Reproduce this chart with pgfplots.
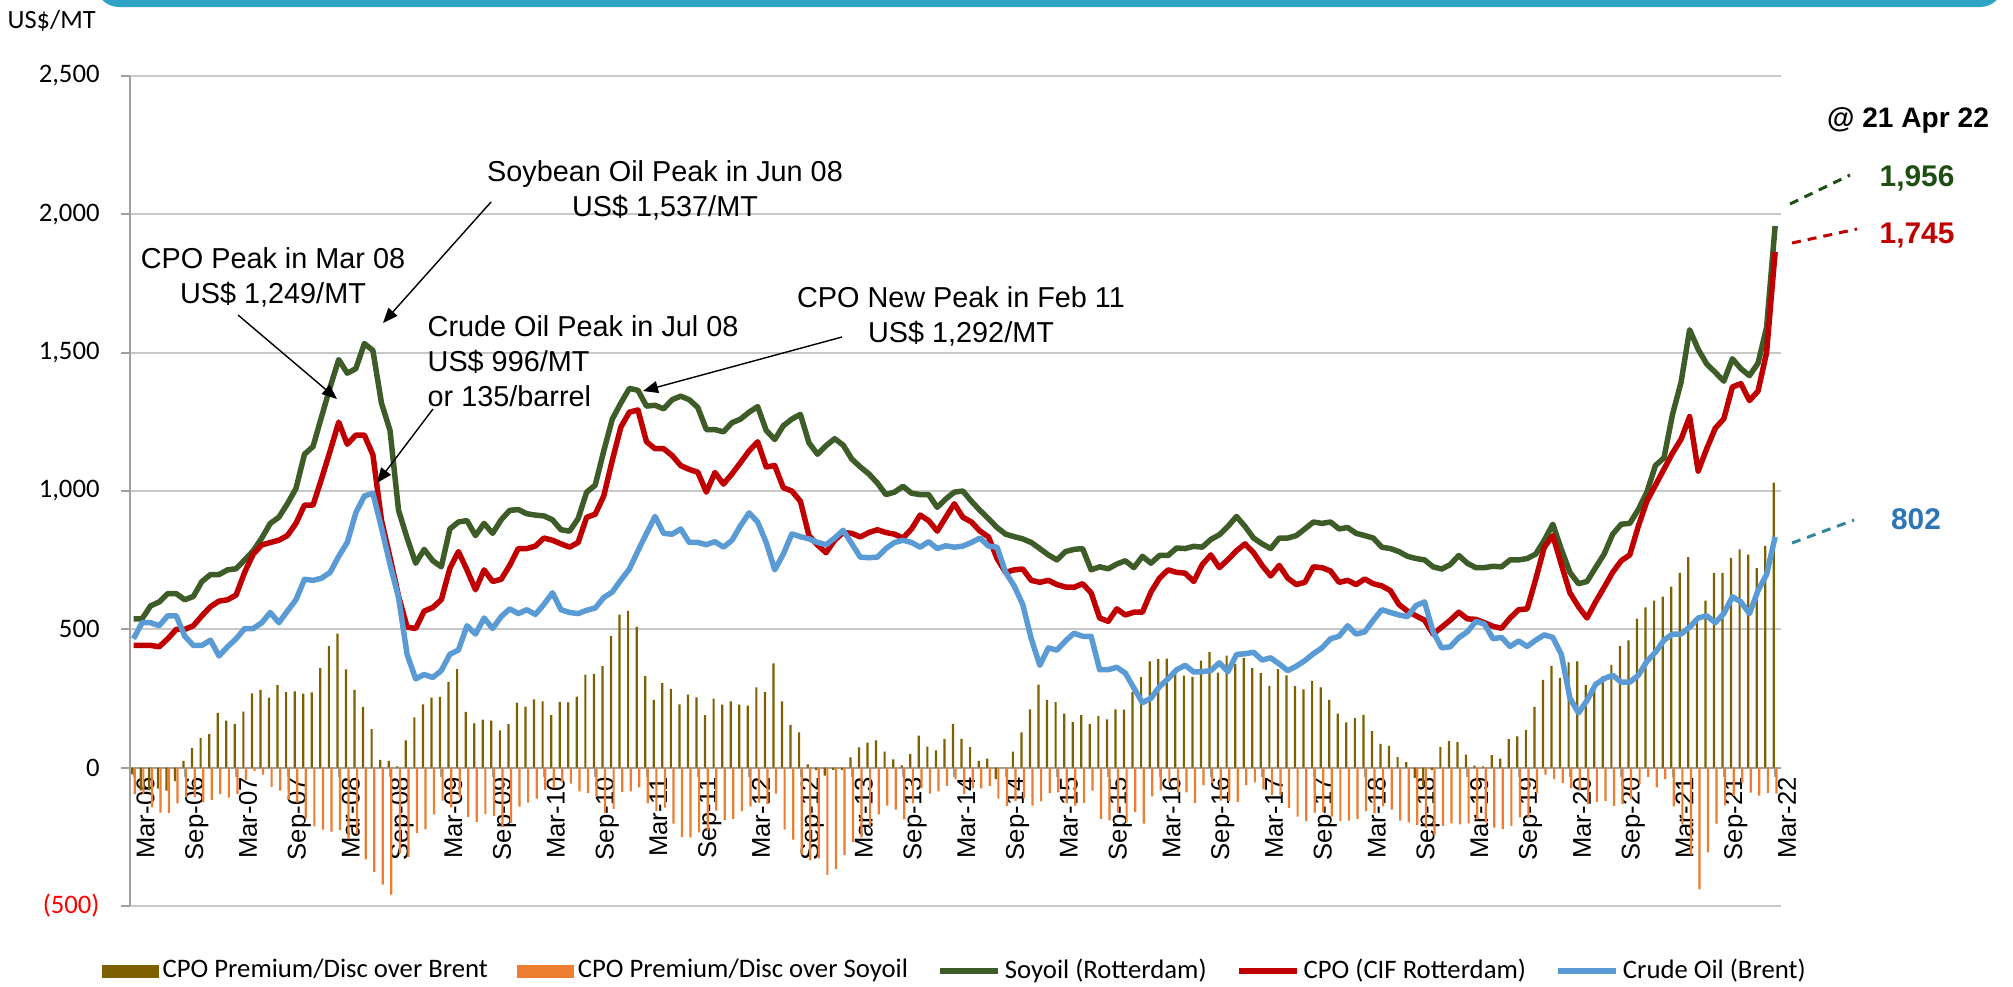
\documentclass[border=0pt]{standalone}
\usepackage{fontspec}
\setmainfont{Carlito}
\newfontfamily\arial{Liberation Sans}
\usepackage{pgfplots}
\pgfplotsset{compat=1.18}
\usepackage{pgfplotstable}
\usetikzlibrary{arrows.meta}
\definecolor{soy}{RGB}{62,92,40}
\definecolor{cpo}{RGB}{192,0,0}
\definecolor{crude}{RGB}{91,155,213}
\definecolor{brentbar}{RGB}{127,96,0}
\definecolor{soybar}{RGB}{237,125,49}
\definecolor{gridc}{RGB}{200,200,200}
\definecolor{axisc}{RGB}{160,160,160}
\definecolor{lbgreen}{RGB}{31,78,19}
\definecolor{lbblue}{RGB}{46,117,182}
\definecolor{lbteal}{RGB}{49,133,156}
\definecolor{framec}{RGB}{46,163,196}

\pgfplotstableread{
k soy cpo crude brent sbar
0 538 442 466 -24 -96
1 538 442 524 -82 -96
2 585 442 524 -82 -143
3 599 437 513 -76 -162
4 629 466 549 -83 -163
5 629 500 549 -49 -129
6 607 500 475 25 -107
7 619 513 442 71 -106
8 673 549 442 107 -124
9 698 582 461 121 -116
10 698 602 404 198 -96
11 715 607 437 170 -108
12 719 624 466 158 -95
13 751 706 503 203 -45
14 784 772 503 269 -12
15 830 805 524 281 -25
16 883 814 561 253 -69
17 905 822 524 298 -83
18 954 839 566 273 -115
19 1009 883 607 276 -126
20 1133 949 681 268 -184
21 1161 949 677 272 -212
22 1269 1045 685 360 -224
23 1376 1145 706 439 -231
24 1475 1249 764 485 -226
25 1426 1169 814 355 -257
26 1442 1202 921 281 -240
27 1533 1202 982 220 -331
28 1508 1131 992 139 -377
29 1318 895 867 28 -423
30 1219 760 735 25 -459
31 930 620 615 5 -310
32 830 508 409 99 -322
33 739 503 321 182 -236
34 789 566 337 229 -223
35 748 579 326 253 -169
36 726 607 351 256 -119
37 863 720 410 310 -143
38 888 781 425 356 -107
39 893 715 513 202 -178
40 839 643 483 160 -196
41 883 715 541 174 -168
42 847 673 503 170 -174
43 896 681 546 135 -215
44 930 731 574 157 -199
45 933 792 557 235 -141
46 918 792 571 221 -126
47 913 801 554 247 -112
48 910 830 590 240 -80
49 896 822 632 190 -74
50 860 809 571 238 -51
51 855 797 561 236 -58
52 900 814 557 257 -86
53 996 905 569 336 -91
54 1021 916 577 339 -105
55 1145 982 615 367 -163
56 1260 1111 635 476 -149
57 1318 1231 678 553 -87
58 1371 1285 718 567 -86
59 1364 1293 784 509 -71
60 1307 1178 847 331 -129
61 1310 1153 908 245 -157
62 1297 1153 847 306 -144
63 1330 1128 844 284 -202
64 1343 1092 863 229 -251
65 1330 1078 814 264 -252
66 1302 1068 814 254 -234
67 1222 996 806 190 -226
68 1222 1067 817 250 -155
69 1214 1025 797 228 -189
70 1247 1062 822 240 -185
71 1260 1103 875 228 -157
72 1285 1145 921 224 -140
73 1305 1178 888 290 -127
74 1219 1087 814 273 -132
75 1186 1092 715 377 -94
76 1236 1012 772 240 -224
77 1260 1000 845 155 -260
78 1277 963 835 128 -314
79 1174 839 827 12 -335
80 1133 805 814 -9 -328
81 1164 777 806 -29 -387
82 1189 822 830 -8 -367
83 1166 850 858 -8 -316
84 1116 847 810 37 -269
85 1087 834 761 73 -253
86 1062 850 759 91 -212
87 1029 860 761 99 -169
88 987 850 792 58 -137
89 996 844 814 30 -152
90 1017 830 822 8 -187
91 992 863 814 49 -129
92 987 913 797 116 -74
93 987 893 817 76 -94
94 941 855 792 63 -86
95 971 905 802 103 -66
96 996 954 797 157 -42
97 1000 905 801 104 -95
98 963 888 814 74 -75
99 930 855 830 25 -75
100 900 834 801 33 -66
101 868 756 797 -41 -112
102 844 706 706 0 -138
103 835 715 657 58 -120
104 827 718 590 128 -109
105 814 677 466 211 -137
106 792 670 370 300 -122
107 769 677 433 244 -92
108 751 662 425 237 -89
109 781 653 458 195 -128
110 789 652 486 166 -137
111 792 665 475 190 -127
112 715 632 475 157 -83
113 726 541 354 187 -185
114 719 529 354 175 -190
115 736 574 363 211 -162
116 748 552 342 210 -196
117 723 562 288 274 -161
118 764 562 235 327 -202
119 739 635 251 384 -104
120 767 685 293 392 -82
121 767 715 321 394 -52
122 794 706 354 352 -88
123 792 703 370 333 -89
124 800 673 346 327 -127
125 797 734 347 387 -63
126 825 769 351 418 -56
127 842 723 379 344 -119
128 872 752 347 405 -120
129 908 784 409 375 -124
130 872 809 412 397 -63
131 830 777 417 360 -53
132 809 731 389 342 -78
133 792 693 397 296 -99
134 830 731 375 356 -99
135 830 685 351 334 -145
136 839 662 367 295 -177
137 863 670 387 283 -193
138 888 726 412 314 -162
139 883 723 433 290 -160
140 888 711 466 245 -177
141 863 670 475 195 -193
142 868 677 513 164 -191
143 847 662 483 179 -185
144 839 682 491 191 -157
145 830 665 533 132 -165
146 797 657 571 86 -140
147 792 640 561 79 -152
148 781 590 552 38 -191
149 764 566 546 20 -198
150 756 549 586 -37 -207
151 751 533 599 -66 -218
152 726 483 491 -8 -243
153 718 508 433 75 -210
154 734 533 437 96 -201
155 767 562 470 92 -205
156 739 538 491 47 -201
157 723 536 529 7 -187
158 723 524 519 5 -199
159 728 511 466 45 -217
160 726 504 471 33 -222
161 751 541 438 103 -210
162 751 571 458 113 -180
163 756 574 438 136 -182
164 772 681 461 220 -91
165 822 797 480 317 -25
166 880 839 471 368 -41
167 789 734 409 325 -55
168 706 632 251 381 -74
169 665 582 198 384 -83
170 673 541 243 298 -132
171 723 599 301 298 -124
172 772 652 322 330 -120
173 844 706 334 372 -138
174 880 748 309 439 -132
175 883 769 309 460 -114
176 933 873 334 539 -60
177 996 963 384 579 -33
178 1092 1021 417 604 -71
179 1120 1079 461 618 -41
180 1277 1137 483 654 -140
181 1393 1187 483 704 -206
182 1583 1269 508 761 -314
183 1512 1072 541 531 -440
184 1459 1153 549 604 -306
185 1429 1227 524 703 -202
186 1397 1261 557 704 -136
187 1478 1376 618 758 -102
188 1442 1388 599 789 -54
189 1417 1327 557 770 -90
190 1462 1361 640 721 -101
191 1591 1500 698 802 -91
192 1958 1864 834 1030 -94
}\data

\begin{document}
\begin{tikzpicture}[x=1cm,y=1cm]
\useasboundingbox (0,0) rectangle (20.13,9.86);
\draw[framec, line width=0.07cm, rounded corners=0.2cm] (0.99,10.4) -- (0.99,9.825) -- (20.0,9.825) -- (20.0,10.4);
\node[anchor=north west, inner sep=0pt, font=\fontsize{7.5}{9}\selectfont] at (0.07,9.77) {US\$/MT};
\begin{axis}[
  at={(1.30cm,0.80cm)}, anchor=south west,
  scale only axis, width=16.51cm, height=8.30cm,
  xmin=-0.41, xmax=192.69, ymin=-500, ymax=2500,
  axis x line=middle, axis y line=left,
  axis line style={-, draw=axisc, line width=0.6pt},
  hide obscured x ticks=false, hide obscured y ticks=false,
  ytick={-500,0,500,1000,1500,2000,2500},
  yticklabels={{\color{red}(500)},0,500,{1,000},{1,500},{2,000},{2,500}},
  ymajorgrids, grid style={gridc, line width=0.5pt},
  xtick={0,6,...,192},
  xticklabels={Mar-06,Sep-06,Mar-07,Sep-07,Mar-08,Sep-08,Mar-09,Sep-09,Mar-10,Sep-10,Mar-11,Sep-11,Mar-12,Sep-12,Mar-13,Sep-13,Mar-14,Sep-14,Mar-15,Sep-15,Mar-16,Sep-16,Mar-17,Sep-17,Mar-18,Sep-18,Mar-19,Sep-19,Mar-20,Sep-20,Mar-21,Sep-21,Mar-22},
  xticklabel style={rotate=90, anchor=east, font=\arial\fontsize{7.3}{8}\selectfont, inner sep=0pt, yshift=-0.12cm},
  yticklabel style={font=\fontsize{7.6}{9}\selectfont, xshift=-0.09cm},
  tick style={axisc, line width=0.5pt}, major tick length=0.09cm, tick align=outside,
  legend columns=5,
  legend style={at={(-0.0176,-0.0783)}, anchor=west, draw=none, fill=none, inner sep=0pt,
    font=\fontsize{7.6}{9}\selectfont,
    /tikz/every even column/.append style={column sep=0.25cm},
    nodes={inner sep=0.04cm}},
]
\addplot[ybar, bar width=0.022cm, bar shift=-0.013cm, draw=none, fill=brentbar,
  legend image code/.code={\fill[brentbar] (0cm,-0.065cm) rectangle (0.57cm,0.065cm);}]
  table[x=k, y=brent] {\data};
\addlegendentry{CPO Premium/Disc over Brent}
\addplot[ybar, bar width=0.022cm, bar shift=0.013cm, draw=none, fill=soybar,
  legend image code/.code={\fill[soybar] (0cm,-0.065cm) rectangle (0.57cm,0.065cm);}]
  table[x=k, y=sbar] {\data};
\addlegendentry{CPO Premium/Disc over Soyoil}
\addplot[soy, line width=0.055cm, line join=round, mark=none,
  legend image code/.code={\draw[soy, line width=0.06cm] (0cm,0cm) -- (0.58cm,0cm);}]
  table[x=k, y=soy] {\data};
\addlegendentry{Soyoil (Rotterdam)}
\addplot[cpo, line width=0.055cm, line join=round, mark=none,
  legend image code/.code={\draw[cpo, line width=0.06cm] (0cm,0cm) -- (0.58cm,0cm);}]
  table[x=k, y=cpo] {\data};
\addlegendentry{CPO (CIF Rotterdam)}
\addplot[crude, line width=0.055cm, line join=round, mark=none,
  legend image code/.code={\draw[crude, line width=0.06cm] (0cm,0cm) -- (0.58cm,0cm);}]
  table[x=k, y=crude] {\data};
\addlegendentry{Crude Oil (Brent)}
\end{axis}

% annotations
\node[font=\arial\fontsize{8.2}{10}\selectfont, align=center, inner sep=0pt] at (2.73,7.09) {CPO Peak in Mar 08\\US\$ 1,249/MT};
\node[font=\arial\fontsize{8.2}{10}\selectfont, align=center, inner sep=0pt] at (6.65,7.96) {Soybean Oil Peak in Jun 08\\US\$ 1,537/MT};
\node[font=\arial\fontsize{8.2}{10}\selectfont, align=left, anchor=west, inner sep=0pt] at (4.27,6.25) {Crude Oil Peak in Jul 08\\US\$ 996/MT\\or 135/barrel};
\node[font=\arial\fontsize{8.2}{10}\selectfont, align=center, inner sep=0pt] at (9.61,6.70) {CPO New Peak in Feb 11\\US\$ 1,292/MT};
\draw[line width=0.4pt, -{Triangle[length=0.15cm,width=0.12cm]}] (2.38,6.71) -- (3.37,5.87);
\draw[line width=0.4pt, -{Triangle[length=0.15cm,width=0.12cm]}] (4.91,7.84) -- (3.83,6.63);
\draw[line width=0.4pt, -{Triangle[length=0.15cm,width=0.12cm]}] (4.33,5.77) -- (3.77,5.03);
\draw[line width=0.4pt, -{Triangle[length=0.15cm,width=0.12cm]}] (8.42,6.49) -- (6.43,5.95);

\node[font=\arial\bfseries\fontsize{8}{10}\selectfont, inner sep=0pt] at (19.08,8.66) {@ 21 Apr 22};
\node[font=\arial\bfseries\fontsize{8.5}{10}\selectfont, text=lbgreen, inner sep=0pt] at (19.17,8.08) {1,956};
\node[font=\arial\bfseries\fontsize{8.5}{10}\selectfont, text=cpo, inner sep=0pt] at (19.17,7.50) {1,745};
\node[font=\arial\bfseries\fontsize{8.5}{10}\selectfont, text=lbblue, inner sep=0pt] at (19.16,4.67) {802};
\draw[lbgreen, line width=0.03cm, dash pattern=on 0.09cm off 0.07cm] (17.90,7.82) -- (18.50,8.11);
\draw[cpo, line width=0.03cm, dash pattern=on 0.09cm off 0.07cm] (17.92,7.43) -- (18.57,7.57);
\draw[lbteal, line width=0.03cm, dash pattern=on 0.09cm off 0.07cm] (17.92,4.43) -- (18.54,4.66);
\end{tikzpicture}
\end{document}
